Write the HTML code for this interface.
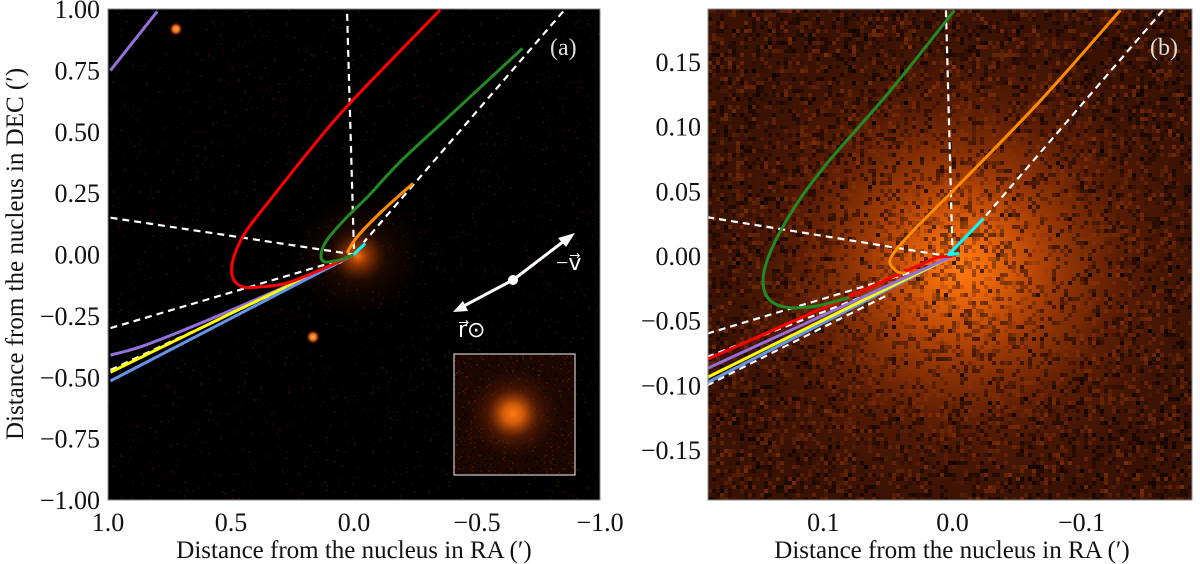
<!DOCTYPE html>
<html><head><meta charset="utf-8">
<style>
html,body{margin:0;padding:0;background:#fff;}
svg{display:block;font-family:"Liberation Serif",serif;}
</style></head>
<body>
<svg id="fig" width="1200" height="564" viewBox="0 0 1200 564" xmlns="http://www.w3.org/2000/svg">
<defs>
<radialGradient id="glowA" cx="0.5" cy="0.5" r="0.5">
<stop offset="0" stop-color="#ff7010" stop-opacity="1"/>
<stop offset="0.12" stop-color="#d04d05" stop-opacity="0.75"/>
<stop offset="0.4" stop-color="#5a1c02" stop-opacity="0.3"/>
<stop offset="1" stop-color="#200800" stop-opacity="0"/>
</radialGradient>
<radialGradient id="glowB" cx="0.5" cy="0.5" r="0.5">
<stop offset="0" stop-color="#ff7a12"/>
<stop offset="0.1" stop-color="#f06a0a"/>
<stop offset="0.3" stop-color="#b04205"/>
<stop offset="0.6" stop-color="#6a2204" stop-opacity="0.7"/>
<stop offset="1" stop-color="#3a1204" stop-opacity="0"/>
</radialGradient>
<radialGradient id="star" cx="0.5" cy="0.5" r="0.5">
<stop offset="0" stop-color="#ffc060"/>
<stop offset="0.5" stop-color="#e86010"/>
<stop offset="1" stop-color="#300800" stop-opacity="0"/>
</radialGradient>
<radialGradient id="glowIn" cx="0.5" cy="0.5" r="0.5">
<stop offset="0" stop-color="#ff7a15"/>
<stop offset="0.2" stop-color="#d05a0a"/>
<stop offset="0.5" stop-color="#6a2204" stop-opacity="0.6"/>
<stop offset="1" stop-color="#2a0c02" stop-opacity="0"/>
</radialGradient>
<clipPath id="clipA"><rect x="108" y="9" width="492" height="491"/></clipPath>
<clipPath id="clipB"><rect x="708" y="9" width="484" height="491"/></clipPath>
<clipPath id="clipIn"><rect x="454" y="354" width="121" height="121"/></clipPath>
</defs>
<g id="panelA"></g>
<g id="panelB"></g>
</svg>
<script>
// ---- Panel (a) data, in arcmin (RA, DEC) ----
const aRed = [[-0.35,0.996],[0.016,0.617],[0.179,0.426],[0.341,0.222],[0.443,0.088],[0.492,-0.022],[0.492,-0.096],[0.451,-0.132],[0.382,-0.132],[0.272,-0.116],[0.11,-0.051],[0.004,-0.002]];
const aGreen = [[-0.685,0.84],[-0.4,0.575],[-0.187,0.377],[-0.06,0.24],[0.028,0.153],[0.11,0.059],[0.134,-0.002],[0.118,-0.03],[0.057,-0.022],[0.004,-0.002]];
const aOrange = [[-0.24,0.29],[-0.106,0.169],[-0.012,0.071],[0.028,0.006]];
const aCyan = [[-0.045,0.045],[-0.02,0.02],[0,0.0]];
const aPurple = [[0.99,-0.41],[0.85,-0.37],[0.6,-0.27],[0.3,-0.14],[0.1,-0.05],[0,0]];
const aPurpleTop = [[0.99,0.75],[0.8,0.99]];
const aYellow = [[0.99,-0.48],[0.5,-0.24],[0,0]];
const aBlue = [[0.99,-0.515],[0.5,-0.26],[0,0]];
const aDashed = [
  [[0.028,0.98],[0,0.01]],
  [[0.99,0.15],[0,0]],
  [[-0.85,0.99],[-0.04,0.05]],
  [[0.99,-0.3],[0.08,-0.03]],
  [[0.99,-0.47],[0.05,-0.03]]
];
const aXTicks = [1.0,0.5,0.0,-0.5,-1.0];
const aXLabels = ["1.0","0.5","0.0","\u22120.5","\u22121.0"];
const aYTicks = [1.0,0.75,0.5,0.25,0.0,-0.25,-0.5,-0.75,-1.0];
const aYLabels = ["1.00","0.75","0.50","0.25","0.00","\u22120.25","\u22120.50","\u22120.75","\u22121.00"];

// ---- Panel (b) data ----
const bGreen = [[-0.0015,0.19],[0.048,0.128],[0.101,0.067],[0.129,0.027],[0.145,-0.008],[0.145,-0.029],[0.132,-0.039],[0.107,-0.039],[0.08,-0.032]];
const bOrange = [[-0.13,0.19],[-0.068,0.12],[-0.006,0.056],[0.03,0.02],[0.048,-0.002],[0.043,-0.012],[0.036,-0.013]];
const bCyan = [[-0.024,0.029],[0.003,0.001],[-0.005,0.002]];
const bRed = [[0.19,-0.08],[0.012,-0.001],[0,0]];
const bPurple = [[0.19,-0.087],[0,0]];
const bYellow = [[0.19,-0.094],[0,0]];
const bBlue = [[0.19,-0.098],[0,0]];
const bDashed = [
  [[0.005,0.19],[0,0.002]],
  [[0.19,0.03],[0.004,0.0]],
  [[-0.163,0.19],[-0.024,0.029]],
  [[0.19,-0.06],[0.03,-0.012]],
  [[0.19,-0.078],[0.04,-0.02]],
  [[0.19,-0.1],[0.05,-0.03]]
];
const bXTicks = [0.1,0.0,-0.1];
const bXLabels = ["0.1","0.0","\u22120.1"];
const bYTicks = [0.15,0.10,0.05,0.0,-0.05,-0.10,-0.15];
const bYLabels = ["0.15","0.10","0.05","0.00","\u22120.05","\u22120.10","\u22120.15"];

const NS = "http://www.w3.org/2000/svg";
function mk(parent, tag, attrs){ const e=document.createElementNS(NS,tag); for(const k in attrs) e.setAttribute(k,attrs[k]); parent.appendChild(e); return e; }

const axA = {x:d=>354-246*d, y:d=>254.5-245.5*d};
const axB = {x:d=>952.5-1291*d, y:d=>256-1293*d};

function poly(g, ax, pts, color, w, dash, name, smooth){
  const P = pts.map(p=>[ax.x(p[0]),ax.y(p[1])]);
  let d = "M"+P[0][0].toFixed(1)+","+P[0][1].toFixed(1);
  if(smooth && P.length>2){
    for(let i=0;i<P.length-1;i++){
      const p0=P[Math.max(0,i-1)],p1=P[i],p2=P[i+1],p3=P[Math.min(P.length-1,i+2)];
      const c1=[p1[0]+(p2[0]-p0[0])/6,p1[1]+(p2[1]-p0[1])/6];
      const c2=[p2[0]-(p3[0]-p1[0])/6,p2[1]-(p3[1]-p1[1])/6];
      d+=" C"+c1[0].toFixed(1)+","+c1[1].toFixed(1)+" "+c2[0].toFixed(1)+","+c2[1].toFixed(1)+" "+p2[0].toFixed(1)+","+p2[1].toFixed(1);
    }
  } else {
    for(let i=1;i<P.length;i++) d+=" L"+P[i][0].toFixed(1)+","+P[i][1].toFixed(1);
  }
  const e = mk(g,"path",{d:d,fill:"none",stroke:color,"stroke-width":w,"stroke-linejoin":"round","stroke-linecap":"butt"});
  if(dash) e.setAttribute("stroke-dasharray",dash);
  
  
  return e;
}
function noise(g,x0,y0,w,h,px,n,seed,dark,light){
  let s=seed; const rnd=()=>{s=(s*16807)%2147483647;return s/2147483647;};
  const ng = mk(g,"g",{});
  const nx=Math.ceil(w/px), ny=Math.ceil(h/px);
  for(let i=0;i<n;i++){
    const x=x0+Math.floor(rnd()*nx)*px, y=y0+Math.floor(rnd()*ny)*px;
    mk(ng,"rect",{x:x,y:y,width:px,height:px,fill:rnd()<0.55?dark:light,"fill-opacity":(0.2+rnd()*0.35).toFixed(2)});
  }
}

// ---------- Panel A ----------
const gA = document.getElementById("panelA");
mk(gA,"rect",{x:108,y:9,width:492,height:491,fill:"#000"});
const imA = mk(gA,"g",{"clip-path":"url(#clipA)"});
noise(imA,108,9,492,491,2,2500,777,"#3a1004","#2a0a02");
mk(imA,"ellipse",{cx:358,cy:256,rx:70,ry:66,fill:"url(#glowA)"});
mk(imA,"circle",{cx:176,cy:29,r:7,fill:"url(#star)"});
mk(imA,"circle",{cx:313,cy:337,r:7,fill:"url(#star)"});
const inset = mk(gA,"rect",{x:454,y:354,width:121,height:121,fill:"#1c0702"});


const inG = mk(gA,"g",{"clip-path":"url(#clipIn)"});
noise(inG,454,354,121,121,2,900,4242,"#000","#5a1e05");
mk(inG,"ellipse",{cx:513,cy:414,rx:50,ry:48,fill:"url(#glowIn)"});
mk(gA,"rect",{x:454,y:354,width:121,height:121,fill:"none",stroke:"#ccc","stroke-width":1.2});
const cA = mk(gA,"g",{"clip-path":"url(#clipA)"});
aDashed.forEach((s,i)=>poly(cA,axA,s,"#fff",2.2,"7,5","dashed-boundary-a-"+i));
poly(cA,axA,aPurpleTop,"#9370db",3,null,"purple-curve-top");
poly(cA,axA,aPurple,"#9370db",3,null,"purple-curve",true);
poly(cA,axA,aYellow,"#ffff00",3,null,"yellow-curve",true);
poly(cA,axA,aBlue,"#6495ed",3,null,"blue-curve",true);
poly(cA,axA,aRed,"#ff0000",3,null,"red-curve",true);
poly(cA,axA,aGreen,"#228b22",3,null,"green-curve",true);
poly(cA,axA,aOrange,"#ff8c00",3,null,"orange-curve",true);
poly(cA,axA,aCyan,"#00ffff",3,null,"cyan-curve");
const arr = mk(gA,"g",{stroke:"#fff","stroke-width":3,fill:"#fff"});


mk(arr,"line",{x1:513,y1:280,x2:568,y2:238});
mk(arr,"line",{x1:513,y1:280,x2:460,y2:308});
mk(arr,"polygon",{points:"575,233 558,238 566,247",stroke:"none"});
mk(arr,"polygon",{points:"453,312 463,301 468,311",stroke:"none"});
mk(arr,"circle",{cx:513,cy:280,r:5,stroke:"none"});
let t;
t = mk(gA,"text",{x:556,y:270,fill:"#fff","font-size":22});
t.textContent="\u2212v\u20d7";
 
t = mk(gA,"text",{x:458,y:337,fill:"#fff","font-size":22});
t.textContent="r\u20d7\u2299";
 
t = mk(gA,"text",{x:550,y:55,fill:"#ddd","font-size":24});
t.textContent="(a)";
 
const frA = mk(gA,"rect",{x:108,y:9,width:492,height:491,fill:"none",stroke:"#888","stroke-width":1});
 
aXTicks.forEach((v,i)=>{
  const e = mk(gA,"text",{x:axA.x(v),y:531,"text-anchor":"middle","font-size":26,fill:"#111"});
  e.textContent=aXLabels[i];
   
});
aYTicks.forEach((v,i)=>{
  const e = mk(gA,"text",{x:100,y:axA.y(v)+9,"text-anchor":"end","font-size":26,fill:"#111"});
  e.textContent=aYLabels[i];
   
});
t = mk(gA,"text",{x:354,y:558,"text-anchor":"middle","font-size":25,fill:"#111"});
t.textContent="Distance from the nucleus in RA (\u2032)";
 
t = mk(gA,"text",{x:0,y:0,"text-anchor":"middle","font-size":25,fill:"#111",transform:"translate(23,254) rotate(-90)"});
t.textContent="Distance from the nucleus in DEC (\u2032)";
 

// ---------- Panel B ----------
const gB = document.getElementById("panelB");
mk(gB,"rect",{x:708,y:9,width:484,height:491,fill:"#3a1204"});
const imB = mk(gB,"g",{"clip-path":"url(#clipB)"});
mk(imB,"ellipse",{cx:960,cy:265,rx:270,ry:265,fill:"url(#glowB)"});
noise(imB,708,9,484,491,4,9000,12345,"#000","#8a3408");
const cB = mk(gB,"g",{"clip-path":"url(#clipB)"});
bDashed.forEach((s,i)=>poly(cB,axB,s,"#fff",2.2,"7,5","dashed-boundary-b-"+i));
poly(cB,axB,bBlue,"#6495ed",3,null,"blue-curve-b");
poly(cB,axB,bYellow,"#ffff00",3,null,"yellow-curve-b");
poly(cB,axB,bPurple,"#9370db",3,null,"purple-curve-b");
poly(cB,axB,bRed,"#ff0000",3,null,"red-curve-b");
poly(cB,axB,bGreen,"#228b22",3,null,"green-curve-b",true);
poly(cB,axB,bOrange,"#ff8c00",3,null,"orange-curve-b",true);
poly(cB,axB,bCyan,"#00ffff",3,null,"cyan-curve-b");
t = mk(gB,"text",{x:1150,y:55,fill:"#ddd","font-size":24});
t.textContent="(b)";
 
const frB = mk(gB,"rect",{x:708,y:9,width:484,height:491,fill:"none",stroke:"#888","stroke-width":1});
 
bXTicks.forEach((v,i)=>{
  const e = mk(gB,"text",{x:axB.x(v),y:531,"text-anchor":"middle","font-size":26,fill:"#111"});
  e.textContent=bXLabels[i];
   
});
bYTicks.forEach((v,i)=>{
  const e = mk(gB,"text",{x:701,y:axB.y(v)+9,"text-anchor":"end","font-size":26,fill:"#111"});
  e.textContent=bYLabels[i];
   
});
t = mk(gB,"text",{x:952,y:558,"text-anchor":"middle","font-size":25,fill:"#111"});
t.textContent="Distance from the nucleus in RA (\u2032)";
 
</script>
</body></html>
